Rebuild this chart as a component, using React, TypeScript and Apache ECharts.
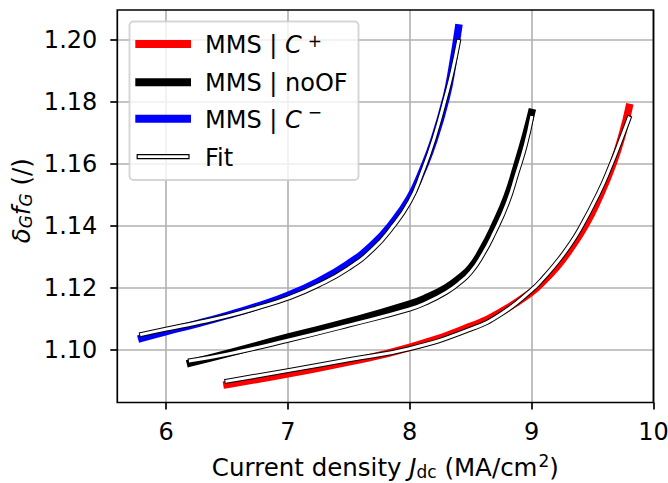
import React, { useEffect, useRef } from 'react';
import * as echarts from 'echarts';

// ---- tick labels ----
const xTicks = [6, 7, 8, 9, 10];
const yTicks = [1.10, 1.12, 1.14, 1.16, 1.18, 1.20];

// ---- MMS | C+ (red) ----
const mmsPlusX = [6.5, 7.0, 7.5, 8.0, 8.5, 8.75, 9.0, 9.1, 9.2, 9.3, 9.44, 9.55, 9.67, 9.75, 9.8];
const mmsPlusY = [1.0887, 1.0922, 1.0960, 1.1007, 1.1075, 1.1122, 1.1186, 1.1222, 1.1264, 1.1315, 1.1400, 1.1487, 1.1602, 1.1702, 1.1782];
// ---- Fit for C+ ----
const fitPlusX = [6.5, 7.0, 7.5, 8.0, 8.5, 8.75, 9.0, 9.1, 9.2, 9.3, 9.4, 9.55, 9.65, 9.73, 9.8];
const fitPlusY = [1.0898, 1.0932, 1.0967, 1.1003, 1.1066, 1.1115, 1.1192, 1.1232, 1.1278, 1.1330, 1.1392, 1.1505, 1.1595, 1.1675, 1.1748];

// ---- MMS | noOF (black) ----
const mmsNoX = [6.2, 6.5, 7.0, 7.5, 8.0, 8.15, 8.3, 8.4, 8.5, 8.6, 8.69, 8.8, 8.88, 8.95, 9.0];
const mmsNoY = [1.0957, 1.0987, 1.1040, 1.1090, 1.1147, 1.1170, 1.1200, 1.1228, 1.1264, 1.1325, 1.1395, 1.1495, 1.1595, 1.1690, 1.1766];
// ---- Fit for noOF ----
const fitNoX = [6.2, 6.5, 7.0, 7.5, 8.0, 8.15, 8.3, 8.4, 8.5, 8.6, 8.69, 8.8, 8.88, 8.95, 9.0];
const fitNoY = [1.0964, 1.0985, 1.1030, 1.1079, 1.1131, 1.1154, 1.1185, 1.1213, 1.1250, 1.1308, 1.1375, 1.1472, 1.1570, 1.1662, 1.1750];

// ---- MMS | C- (blue) ----
const mmsMinusX = [5.8, 6.0, 6.25, 6.5, 6.75, 7.0, 7.25, 7.5, 7.7, 7.85, 8.0, 8.1, 8.2, 8.3, 8.35, 8.4];
const mmsMinusY = [1.1037, 1.1058, 1.1083, 1.1110, 1.1140, 1.1175, 1.1220, 1.1278, 1.1340, 1.1405, 1.1490, 1.1575, 1.1678, 1.1815, 1.1915, 1.2039];
// ---- Fit for C- ----
const fitMinusX = [5.8, 6.0, 6.25, 6.5, 6.75, 7.0, 7.25, 7.5, 7.7, 7.85, 8.0, 8.1, 8.2, 8.3, 8.35, 8.4];
const fitMinusY = [1.1049, 1.1066, 1.1086, 1.1108, 1.1135, 1.1166, 1.1208, 1.1263, 1.1325, 1.1392, 1.1478, 1.1570, 1.1682, 1.1822, 1.1900, 1.1995];

const FONT = 'DejaVu Sans';
const zip = (xs: number[], ys: number[]) => xs.map((x, i) => [x, ys[i]]);

const GRID = { left: 117.3, top: 10, right: 14.6, bottom: 80.5 };
const W = 668;
const H = 483;

const richAxis = {
  i: { fontStyle: 'italic', fontSize: 24.5, fontFamily: FONT, lineHeight: 22, verticalAlign: 'middle', color: '#000' },
  sub: { fontSize: 17, fontFamily: FONT, lineHeight: 12, padding: [9, 0, 0, 0], verticalAlign: 'middle', color: '#000' },
  isub: { fontStyle: 'italic', fontSize: 17, fontFamily: FONT, lineHeight: 12, padding: [10, 0, 0, 0], verticalAlign: 'middle', color: '#000' },
  sup: { fontSize: 17, fontFamily: FONT, lineHeight: 8, padding: [0, 0, 14, 1], verticalAlign: 'middle', color: '#000' },
};

const richLegend = {
  n: { fontSize: 24, fontFamily: FONT, lineHeight: 28, verticalAlign: 'middle', fill: '#000' },
  i: { fontSize: 24, fontFamily: FONT, fontStyle: 'italic', lineHeight: 28, verticalAlign: 'middle', fill: '#000' },
  sp: { fontSize: 17, fontFamily: FONT, lineHeight: 18, padding: [0, 0, 9, 6], verticalAlign: 'middle', fill: '#000' },
  sm: { fontSize: 17, fontFamily: FONT, lineHeight: 18, padding: [0, 0, 15, 6], verticalAlign: 'middle', fill: '#000' },
};

function lineSeries(data: number[][], color: string, width: number) {
  return {
    type: 'line',
    data,
    showSymbol: false,
    symbol: 'none',
    smooth: 0.5,
    silent: true,
    lineStyle: { color, width, cap: 'square', join: 'round' },
  };
}

export default function App() {
  const ref = useRef<HTMLDivElement>(null);
  useEffect(() => {
    if (!ref.current) return;
    const chart = echarts.init(ref.current, null, { renderer: 'svg' });
    const plotW = W - GRID.left - GRID.right;
    const plotH = H - GRID.top - GRID.bottom;
    const lx0 = 135.3;
    const lx1 = 191;
    const tx = 205;
    const rows = [44, 82.3, 118.7, 156.7];
    const option: any = {
      animation: false,
      backgroundColor: '#fff',
      grid: { ...GRID, containLabel: false, outerBoundsMode: 'none', show: false },
      xAxis: {
        type: 'value',
        min: 5.6,
        max: 10,
        axisLine: { show: false },
        axisTick: { show: true, customValues: xTicks, length: 7, inside: false, lineStyle: { color: '#000', width: 1.7 } },
        axisLabel: {
          customValues: xTicks,
          margin: 17,
          fontSize: 24,
          fontFamily: FONT,
          color: '#000',
          formatter: (v: number) => String(v),
        },
        splitLine: { show: true, lineStyle: { color: '#b0b0b0', width: 1.6 } },
        name: 'Current density {i|J}{sub|dc} (MA/cm{sup|2})',
        nameLocation: 'middle',
        nameGap: 54,
        nameMoveOverlap: false,
        nameTextStyle: { fontSize: 24.5, fontFamily: FONT, color: '#000', lineHeight: 22, rich: richAxis },
      },
      yAxis: {
        type: 'value',
        min: 1.0829,
        max: 1.2097,
        axisLine: { show: false },
        axisTick: { show: true, customValues: yTicks, length: 7, inside: false, lineStyle: { color: '#000', width: 1.7 } },
        axisLabel: {
          customValues: yTicks,
          margin: 20,
          fontSize: 24,
          fontFamily: FONT,
          color: '#000',
          formatter: (v: number) => v.toFixed(2),
        },
        splitLine: { show: true, lineStyle: { color: '#b0b0b0', width: 1.6 } },
        name: '{i|δ}{isub|G}{i|f}{isub|G} (/)',
        nameLocation: 'middle',
        nameRotate: 90,
        nameGap: 85,
        nameMoveOverlap: false,
        nameTextStyle: { fontSize: 24.5, fontFamily: FONT, color: '#000', lineHeight: 22, padding: [0, 0, 0, 11], rich: richAxis },
      },
      series: [
        lineSeries(zip(mmsPlusX, mmsPlusY), '#ff0000', 7.5),
        lineSeries(zip(mmsNoX, mmsNoY), '#000000', 7.5),
        lineSeries(zip(mmsMinusX, mmsMinusY), '#0000ff', 7.5),
        lineSeries(zip(fitPlusX, fitPlusY), '#000000', 5),
        lineSeries(zip(fitPlusX, fitPlusY), '#ffffff', 3),
        lineSeries(zip(fitNoX, fitNoY), '#000000', 5),
        lineSeries(zip(fitNoX, fitNoY), '#ffffff', 3),
        lineSeries(zip(fitMinusX, fitMinusY), '#000000', 5),
        lineSeries(zip(fitMinusX, fitMinusY), '#ffffff', 3),
      ],
      graphic: [
        {
          type: 'rect',
          z: 50,
          silent: true,
          shape: { x: GRID.left, y: GRID.top, width: plotW, height: plotH },
          style: { fill: 'none', stroke: '#000', lineWidth: 1.7 },
        },
        {
          type: 'rect',
          z: 100,
          silent: true,
          shape: { x: 129.5, y: 21.5, width: 229, height: 158.5, r: 4 },
          style: { fill: 'rgba(255,255,255,0.8)', stroke: 'rgba(204,204,204,0.8)', lineWidth: 2 },
        },
        { type: 'line', z: 101, silent: true, shape: { x1: lx0, y1: rows[0], x2: lx1, y2: rows[0] }, style: { stroke: '#ff0000', lineWidth: 8 } },
        { type: 'line', z: 101, silent: true, shape: { x1: lx0, y1: rows[1], x2: lx1, y2: rows[1] }, style: { stroke: '#000000', lineWidth: 8 } },
        { type: 'line', z: 101, silent: true, shape: { x1: lx0, y1: rows[2], x2: lx1, y2: rows[2] }, style: { stroke: '#0000ff', lineWidth: 8 } },
        {
          type: 'rect',
          z: 101,
          silent: true,
          shape: { x: 137.2, y: rows[3] - 2, width: 51.8, height: 4 },
          style: { fill: '#fff', stroke: '#000', lineWidth: 1.2 },
        },
        {
          type: 'text', z: 101, silent: true, x: tx, y: rows[0] + 1,
          style: { text: '{n|MMS | }{i|C}{sp|+}', verticalAlign: 'middle', align: 'left', rich: richLegend, fontSize: 24, fontFamily: FONT, fill: '#000' },
        },
        {
          type: 'text', z: 101, silent: true, x: tx, y: rows[1] + 1,
          style: { text: 'MMS | noOF', verticalAlign: 'middle', align: 'left', fontSize: 24, fontFamily: FONT, fill: '#000' },
        },
        {
          type: 'text', z: 101, silent: true, x: tx, y: rows[2] + 1,
          style: { text: '{n|MMS | }{i|C}{sm|−}', verticalAlign: 'middle', align: 'left', rich: richLegend, fontSize: 24, fontFamily: FONT, fill: '#000' },
        },
        {
          type: 'text', z: 101, silent: true, x: tx, y: rows[3] + 1,
          style: { text: 'Fit', verticalAlign: 'middle', align: 'left', fontSize: 24, fontFamily: FONT, fill: '#000' },
        },
      ],
    };
    chart.setOption(option);
    return () => chart.dispose();
  }, []);
  return <div ref={ref} style={{ position: 'absolute', left: 0, top: 0, width: W, height: H }} />;
}
